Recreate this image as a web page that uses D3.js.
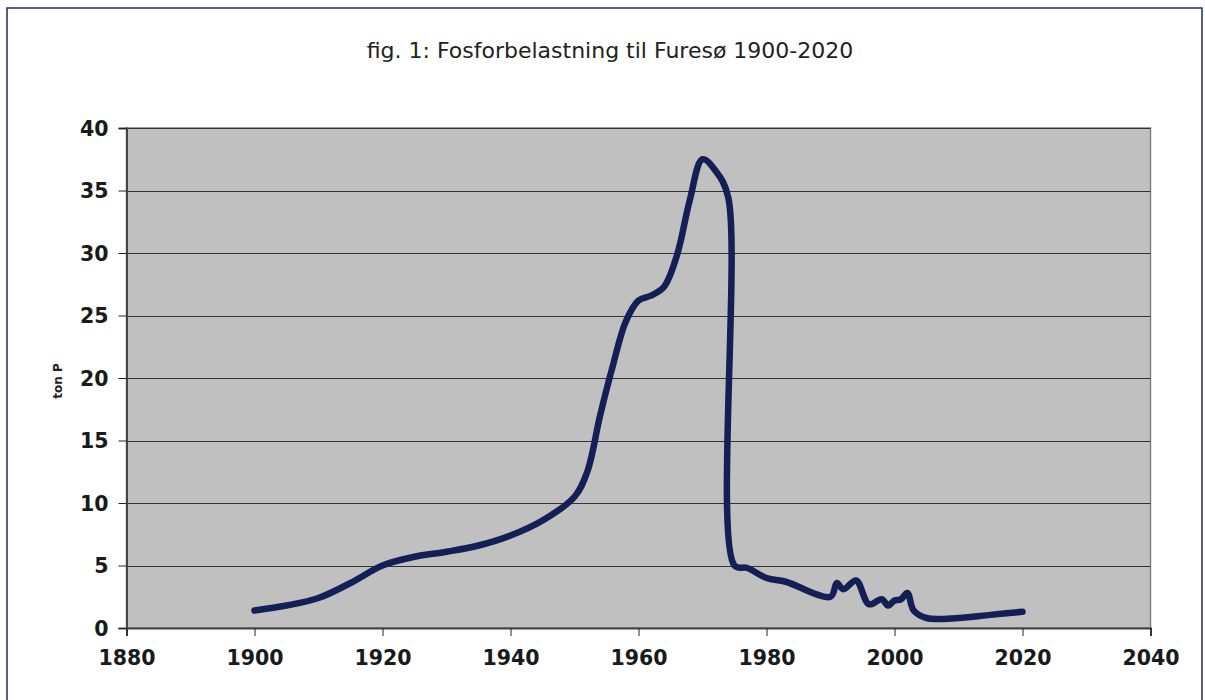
<!DOCTYPE html>
<html><head><meta charset="utf-8">
<script src="https://cdn.jsdelivr.net/npm/d3@7"></script>
<style>body{margin:0;background:#fff}svg{display:block}</style>
</head><body>
<script>
const title = "fig. 1: Fosforbelastning til Furesø 1900-2020";
const yLabel = "ton P";
const years = [1900,1905,1910,1915,1920,1925,1930,1935,1940,1945,1950,1952,1954,1956,1958,1960,1962,1964,1966,1968,1970,1972,1974,1975,1977,1980,1983,1990,1991,1992,1994,1996,1998,1999,2000,2001,2002,2003,2005,2010,2015,2020];
const values = [1.4,1.8,2.4,3.6,5.0,5.7,6.1,6.6,7.4,8.6,10.5,12.5,17.0,21.0,24.5,26.2,26.6,27.3,29.8,34.2,37.5,36.6,34.5,5.0,4.8,4.0,3.7,2.5,3.6,3.1,3.8,1.9,2.3,1.8,2.2,2.3,2.8,1.4,0.8,0.8,1.05,1.3];
const xTicks = [1880,1900,1920,1940,1960,1980,2000,2020,2040];
const yTicks = [0,5,10,15,20,25,30,35,40];

const W=1205,H=700;
const svg=d3.select("body").append("svg").attr("width",W).attr("height",H);
svg.append("rect").attr("x",7).attr("y",8).attr("width",1195).attr("height",700)
  .attr("fill","#fff").attr("stroke","#1f2a6b").attr("stroke-width",1.5);

const L=126.5,R=1150.5,T=128,B=628;
const x=d3.scaleLinear().domain([1880,2040]).range([L,R]);
const y=d3.scaleLinear().domain([0,40]).range([B,T]);

svg.append("text").attr("x",610).attr("y",58).attr("text-anchor","middle")
  .attr("font-family","DejaVu Sans").attr("font-size",22).attr("fill","#222").text(title);

svg.append("rect").attr("x",L).attr("y",T).attr("width",R-L).attr("height",B-T)
  .attr("fill","#c0c0c0").attr("stroke","#808080").attr("stroke-width",1.5);

svg.append("g").selectAll("line").data(yTicks.filter(d=>d>0)).join("line")
  .attr("x1",L).attr("x2",R).attr("y1",d=>Math.round(y(d))+0.5).attr("y2",d=>Math.round(y(d))+0.5)
  .attr("stroke","#333").attr("stroke-width",1);

const yAxis=svg.append("g").attr("transform",`translate(${L},0)`)
  .call(d3.axisLeft(y).tickValues(yTicks).tickSize(8).tickPadding(10));
const xAxis=svg.append("g").attr("transform",`translate(0,${B})`)
  .call(d3.axisBottom(x).tickValues(xTicks).tickFormat(d3.format("d")).tickSize(8).tickPadding(14));
[yAxis,xAxis].forEach(g=>{
  g.select(".domain").attr("stroke","#444").attr("stroke-width",2);
  g.selectAll(".tick line").attr("stroke","#222");
  g.selectAll("text").attr("font-family","DejaVu Sans").attr("font-weight","bold")
   .attr("font-size",20.5).attr("fill","#1a1a1a");
});
yAxis.selectAll("text").attr("dy","0.36em");

svg.append("text").attr("transform","translate(62,381) rotate(-90)").attr("text-anchor","middle")
  .attr("font-family","DejaVu Sans").attr("font-weight","bold").attr("font-size",12).attr("fill","#222").text(yLabel);

const line=d3.line().x((d,i)=>x(years[i])).y(d=>y(d)).curve(d3.curveCatmullRom.alpha(0.5));
svg.append("path").attr("d",line(values)).attr("fill","none").attr("stroke","#131f55")
  .attr("stroke-width",6.5).attr("stroke-linecap","round").attr("stroke-linejoin","round");
</script>
</body></html>
